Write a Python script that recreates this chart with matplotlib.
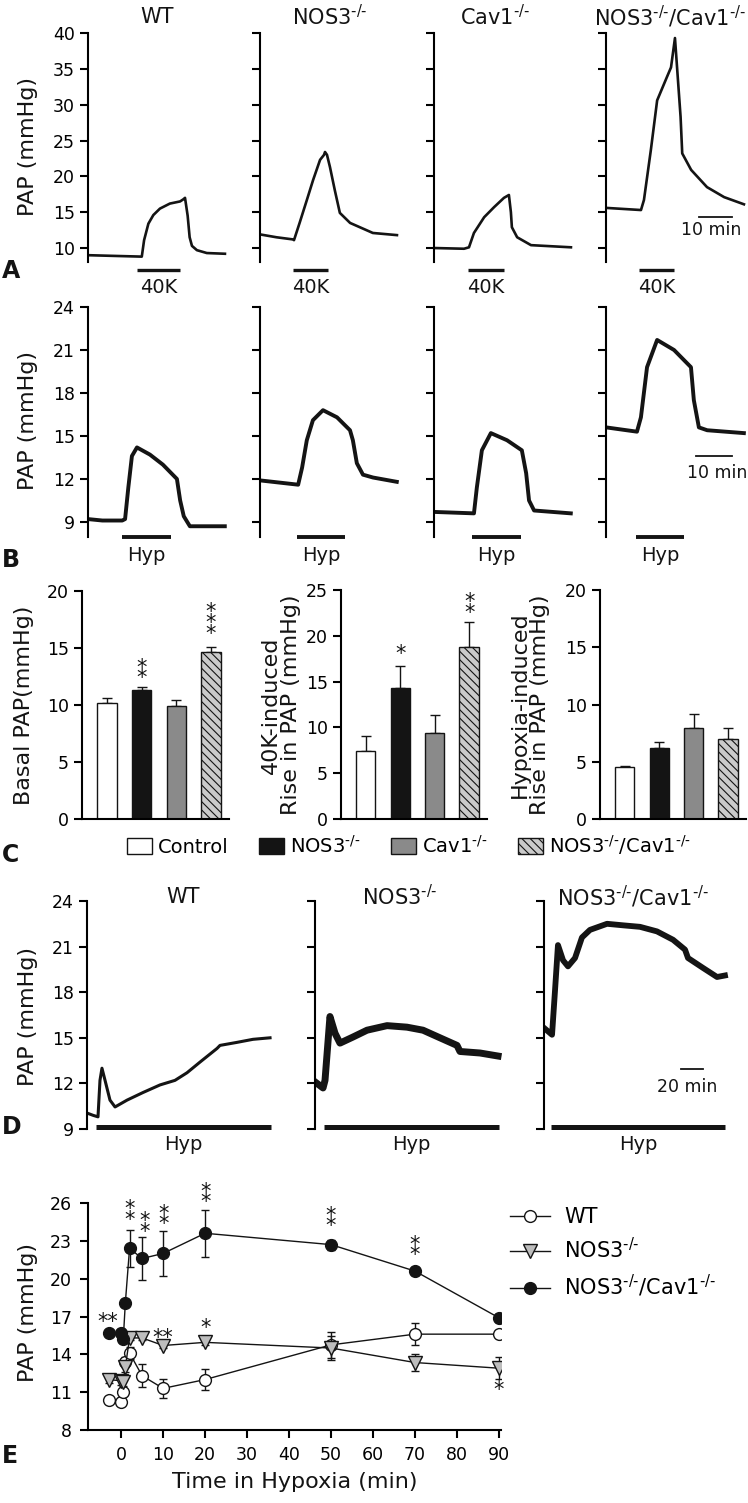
import matplotlib
matplotlib.use("Agg")
import matplotlib.pyplot as plt
from matplotlib.patches import Patch
from matplotlib.lines import Line2D

# ---------------- data ----------------
SUP = r"$^{\text{-/-}}$"
GROUPS_A = ["WT", "NOS3" + SUP, "Cav1" + SUP, "NOS3" + SUP + "/Cav1" + SUP]
GROUPS_D = ["WT", "NOS3" + SUP, "NOS3" + SUP + "/Cav1" + SUP]

# Panel A: 40K traces (time in min, PAP in mmHg)
a_wt_t = [0, 8, 16.3, 17.0, 18.3, 19.8, 21.8, 24.8, 27.9, 28.9, 29.4, 30.2, 30.8, 31.5, 33.0, 36.0, 41.5]
a_wt_p = [9.0, 8.9, 8.8, 11.1, 13.4, 14.6, 15.5, 16.2, 16.5, 16.8, 17.0, 14.5, 11.5, 10.3, 9.7, 9.3, 9.2]
a_nos3_t = [0, 5, 10.0, 10.3, 12.0, 14.2, 16.1, 18.2, 19.4, 19.7, 20.3, 21.2, 22.7, 24.2, 27.3, 34.2, 41.5]
a_nos3_p = [11.9, 11.5, 11.2, 11.1, 13.5, 16.7, 19.5, 22.3, 23.0, 23.4, 23.0, 21.3, 18.0, 14.9, 13.5, 12.1, 11.8]
a_cav_t = [0, 9.1, 10.6, 12.1, 15.2, 18.2, 21.2, 22.7, 23.3, 23.6, 25.2, 29.4, 41.5]
a_cav_p = [10.0, 9.9, 10.1, 12.1, 14.3, 15.7, 17.0, 17.4, 15.0, 12.9, 11.5, 10.4, 10.1]
a_dbl_t = [0, 10.6, 11.5, 13.6, 15.5, 18.5, 19.7, 20.9, 22.6, 23.1, 25.8, 30.6, 35.8, 41.8]
a_dbl_p = [15.6, 15.3, 16.7, 23.7, 30.6, 33.9, 35.2, 39.3, 28.3, 23.2, 20.9, 18.5, 17.1, 16.1]
a_k40_on = [14.8, 10.0, 10.3, 10.0]
a_k40_off = [27.9, 20.6, 21.2, 20.6]

# Panel B: hypoxia traces
b_wt_t = [0, 4, 9.5, 10.3, 11.2, 12.2, 13.6, 17.2, 20.8, 24.7, 25.6, 26.6, 28.3, 38.0]
b_wt_p = [9.2, 9.1, 9.1, 9.2, 11.4, 13.6, 14.2, 13.7, 13.0, 12.0, 10.5, 9.4, 8.7, 8.7]
b_nos3_t = [0, 10.6, 11.7, 13.0, 14.7, 17.5, 21.4, 25.0, 25.8, 26.9, 28.6, 31.4, 38.0]
b_nos3_p = [11.9, 11.6, 12.8, 14.7, 16.1, 16.8, 16.3, 15.4, 14.7, 13.1, 12.3, 12.1, 11.8]
b_cav_t = [0, 11.1, 11.9, 13.3, 15.8, 20.3, 24.4, 25.6, 26.4, 27.8, 38.0]
b_cav_p = [9.7, 9.6, 11.4, 14.0, 15.2, 14.7, 14.0, 12.4, 10.5, 9.8, 9.6]
b_dbl_t = [0, 8.6, 9.7, 11.4, 14.2, 18.9, 23.6, 24.4, 25.8, 28.1, 38.3]
b_dbl_p = [15.6, 15.3, 16.3, 19.8, 21.7, 21.0, 19.8, 17.5, 15.6, 15.4, 15.2]
b_hyp_on = [9.4, 10.3, 10.6, 8.3]
b_hyp_off = [23.1, 23.6, 24.2, 21.7]

# Panel C: bar summaries
c_groups = ["Control", "NOS3" + SUP, "Cav1" + SUP, "NOS3" + SUP + "/Cav1" + SUP]
c_basal = [10.2, 11.35, 9.95, 14.65]
c_basal_err = [0.4, 0.25, 0.5, 0.4]
c_k40 = [7.4, 14.3, 9.4, 18.8]
c_k40_err = [1.7, 2.4, 2.0, 2.7]
c_hyp = [4.5, 6.2, 7.95, 6.95]
c_hyp_err = [0.17, 0.5, 1.2, 1.0]

# Panel D: prolonged hypoxia traces
d_wt_t = [0, 5.5, 10, 10.9, 11.8, 13.6, 16.4, 20.9, 25.5, 36.4, 50.9, 66.4, 80, 90.9, 102.7, 118.2, 120.9, 136.4, 150.9, 166.4]
d_wt_p = [10.05, 9.9, 9.8, 11.0, 12.2, 13.0, 12.2, 10.9, 10.45, 10.9, 11.4, 11.9, 12.2, 12.7, 13.4, 14.3, 14.5, 14.7, 14.9, 15.0]
d_nos3_t = [0, 7.3, 9.1, 13.6, 18.2, 22.7, 34.5, 47.3, 65.5, 83.6, 98.2, 113.6, 129.1, 131.8, 150, 166.4]
d_nos3_p = [12.1, 11.7, 12.2, 16.4, 15.3, 14.65, 15.05, 15.5, 15.8, 15.7, 15.5, 15.0, 14.5, 14.1, 14.0, 13.8]
d_dbl_t = [0, 7.3, 10, 12.7, 17.3, 21.8, 28.2, 34.5, 41.8, 57.3, 71.8, 87.3, 102.7, 117.3, 128.2, 130.9, 144.5, 157.3, 164.5]
d_dbl_p = [15.65, 15.2, 18.1, 21.1, 20.1, 19.7, 20.25, 21.6, 22.1, 22.5, 22.4, 22.3, 22.0, 21.45, 20.8, 20.25, 19.6, 19.0, 19.1]
d_hyp_on = [8.2, 8.2, 6.4]
d_hyp_off = [167.3, 167.3, 164.5]

# Panel E: time course
e_time = [-3, 0, 0.5, 1, 2, 5, 10, 20, 50, 70, 90]
e_wt = [10.4, 10.25, 11.0, 13.4, 14.1, 12.3, 11.3, 12.0, 14.75, 15.6, 15.6]
e_wt_err = [0.15, 0.25, 0.3, 0.4, 0.5, 0.9, 0.75, 0.8, 1.05, 0.85, 0.2]
e_nos3 = [12.0, 11.9, 11.8, 13.0, 15.3, 15.3, 14.7, 14.95, 14.5, 13.35, 12.9]
e_nos3_err = [0.3, 0.3, 0.3, 0.4, 0.2, 0.2, 0.2, 0.2, 0.95, 0.7, 0.85]
e_dbl = [15.7, 15.7, 15.2, 18.1, 22.4, 21.6, 22.0, 23.6, 22.7, 20.6, 16.9]
e_dbl_err = [0.2, 0.3, 0.3, 0.3, 1.45, 1.7, 1.8, 1.85, 0.4, 0.3, 0.3]
e_xticks = [0, 10, 20, 30, 40, 50, 60, 70, 80, 90]
e_yticks = [8, 11, 14, 17, 20, 23, 26]

# significance marks (x, y of lowest star, number stacked vertically)
c1_stars = [(1, 12.5, 2), (3, 16.4, 3)]
c2_stars = [(1, 18.2, 1), (3, 22.7, 2)]
e_stars = [(2.1, 24.8, 2), (5.6, 23.85, 2), (10.2, 24.45, 2), (20, 26.2, 2),
           (50, 24.3, 2), (70, 22.0, 2), (20, 16.25, 1), (90, 11.3, 1)]
e_pair_stars = [(-3.1, 17.0), (9.8, 15.8)]

# ---------------- figure helpers ----------------
W, H = 748, 1503
plt.rcParams.update({
    "font.family": ["DejaVu Sans"],
    "mathtext.default": "regular",
    "axes.linewidth": 1.5,
    "hatch.linewidth": 0.8,
})
fig = plt.figure(figsize=(W / 100, H / 100), dpi=100)
INK = "#141414"
STAR_FS = 15


def px_axes(x0, y0, x1, y1):
    ax = fig.add_axes([x0 / W, 1 - y1 / H, (x1 - x0) / W, (y1 - y0) / H])
    ax.patch.set_alpha(0)
    return ax


def ftext(x, y, s, **kw):
    fig.text(x / W, 1 - y / H, s, **kw)


def star_stack(ax, x, y, n, fs=STAR_FS):
    # y = centre of the lowest star; stars stacked vertically in one text
    ax.annotate("\n".join(["*"] * n), xy=(x, y), xytext=(0, -0.57 * fs), textcoords="offset points",
                ha="center", va="bottom", fontsize=fs, color=INK, linespacing=0.42,
                annotation_clip=False)


def star_pair(ax, x, y, fs=STAR_FS):
    ax.annotate("**", xy=(x, y), xytext=(0, -0.57 * fs), textcoords="offset points",
                ha="center", va="baseline", fontsize=fs, color=INK, annotation_clip=False)


def trace_axes(x0, y0, x1, y1, ylim, pxmin, yticks, labels):
    ax = px_axes(x0, y0, x1, y1)
    ax.set_xlim(0, (x1 - x0) / pxmin)
    ax.set_ylim(*ylim)
    for s in ["top", "right", "bottom"]:
        ax.spines[s].set_visible(False)
    ax.set_xticks([])
    ax.set_yticks(yticks)
    if not labels:
        ax.set_yticklabels([])
    ax.tick_params(axis="y", direction="out", length=5.5, width=1.5, labelsize=12.5, pad=4)
    return ax


# ---------------- Panel A ----------------
a_traces = [(a_wt_t, a_wt_p), (a_nos3_t, a_nos3_p), (a_cav_t, a_cav_p), (a_dbl_t, a_dbl_p)]
a_x = [(88, 233), (260, 405), (434, 579), (606, 748)]
a_title_x = [157, 330, 495, 670]
for i, ((t, p), (x0, x1)) in enumerate(zip(a_traces, a_x)):
    ax = trace_axes(x0, 33, x1, 262, (8.05, 40), 3.3, [10, 15, 20, 25, 30, 35, 40], i == 0)
    ax.plot(t, p, color=INK, lw=1.9, solid_joinstyle="round")
    ax.plot([a_k40_on[i], a_k40_off[i]], [6.93, 6.93], color=INK, lw=2.4, clip_on=False, solid_capstyle="butt")
    ax.text((a_k40_on[i] + a_k40_off[i]) / 2, 4.5, "40K", ha="center", va="center", fontsize=14, color=INK)
    ftext(a_title_x[i], 17, GROUPS_A[i], ha="center", va="center", fontsize=15, color=INK)
    if i == 3:
        ax.plot([28.2, 38.2], [14.3, 14.3], color=INK, lw=1.3)
        ax.text(31.8, 12.5, "10 min", ha="center", va="center", fontsize=12.5, color=INK)
ftext(28, 146, "PAP (mmHg)", rotation=90, ha="center", va="center", fontsize=16, color=INK)
ftext(2, 271, "A", fontsize=17, fontweight="bold", ha="left", va="center", color=INK)

# ---------------- Panel B ----------------
b_traces = [(b_wt_t, b_wt_p), (b_nos3_t, b_nos3_p), (b_cav_t, b_cav_p), (b_dbl_t, b_dbl_p)]
for i, ((t, p), (x0, x1)) in enumerate(zip(b_traces, a_x)):
    ax = trace_axes(x0, 307, x1, 537, (7.95, 24), 3.6, [9, 12, 15, 18, 21, 24], i == 0)
    ax.plot(t, p, color=INK, lw=2.8, solid_joinstyle="round")
    ax.plot([b_hyp_on[i], b_hyp_off[i]], [7.95, 7.95], color=INK, lw=2.8, clip_on=False, solid_capstyle="butt")
    ax.text((b_hyp_on[i] + b_hyp_off[i]) / 2, 6.65, "Hyp", ha="center", va="center", fontsize=14, color=INK)
    if i == 3:
        ax.plot([25, 35], [13.6, 13.6], color=INK, lw=1.3)
        ax.text(30.8, 12.4, "10 min", ha="center", va="center", fontsize=12.5, color=INK)
ftext(28, 420, "PAP (mmHg)", rotation=90, ha="center", va="center", fontsize=16, color=INK)
ftext(2, 560, "B", fontsize=17, fontweight="bold", ha="left", va="center", color=INK)

# ---------------- Panel C ----------------
bar_colors = ["white", INK, "#8a8a8a", "#cacaca"]
bar_hatch = [None, None, None, "\\\\\\\\"]
c_sets = [
    (82, 229, 591, c_basal, c_basal_err, 20, [0, 5, 10, 15, 20], "Basal PAP(mmHg)", 24, c1_stars),
    (341, 487, 590, c_k40, c_k40_err, 25, [0, 5, 10, 15, 20, 25], "40K-induced\nRise in PAP (mmHg)", 281, c2_stars),
    (600, 746, 590, c_hyp, c_hyp_err, 20, [0, 5, 10, 15, 20], "Hypoxia-induced\nRise in PAP (mmHg)", 530, []),
]
xpos = [0, 1, 2, 3]
for x0, x1, y0, vals, errs, ymax, yt, ylab, labx, stars in c_sets:
    ax = px_axes(x0, y0, x1, 819)
    bars = ax.bar(xpos, vals, width=0.56, color=bar_colors, edgecolor=INK, linewidth=1.0, zorder=2)
    for b, h in zip(bars, bar_hatch):
        if h:
            b.set_hatch(h)
    ax.errorbar(xpos, vals, yerr=[[0] * 4, errs], fmt="none", ecolor=INK, elinewidth=1.0,
                capsize=3.5, capthick=1.0, zorder=1)
    ax.set_xlim(-0.72, 3.52)
    ax.set_ylim(0, ymax)
    ax.set_yticks(yt)
    ax.set_xticks([])
    for s in ["top", "right"]:
        ax.spines[s].set_visible(False)
    ax.tick_params(axis="y", direction="out", length=5.5, width=1.5, labelsize=12.5, pad=4)
    for sx, sy, n in stars:
        star_stack(ax, sx, sy, n)
    ftext(labx, 705, ylab, rotation=90, ha="center", va="center", fontsize=16, color=INK,
          linespacing=1.05, multialignment="center")
handles = [Patch(facecolor=c, edgecolor=INK, hatch=h, linewidth=1.0) for c, h in zip(bar_colors, bar_hatch)]
fig.legend(handles, c_groups, loc="center left", bbox_to_anchor=(127 / W, 1 - 845 / H), ncol=4,
           frameon=False, fontsize=14, handlelength=1.3, handleheight=0.95, handletextpad=0.3,
           columnspacing=1.55, borderaxespad=0, borderpad=0)
ftext(2, 855, "C", fontsize=17, fontweight="bold", ha="left", va="center", color=INK)

# ---------------- Panel D ----------------
d_traces = [(d_wt_t, d_wt_p, 2.2), (d_nos3_t, d_nos3_p, 5.0), (d_dbl_t, d_dbl_p, 4.2)]
d_x = [87, 315, 544]
d_title_x = [183, 400, 633]
for i, ((t, p, lw), x0) in enumerate(zip(d_traces, d_x)):
    ax = trace_axes(x0, 901, x0 + 190, 1129, (9, 24), 1.1, [9, 12, 15, 18, 21, 24], i == 0)
    ax.plot(t, p, color=INK, lw=lw, solid_joinstyle="round")
    ax.plot([d_hyp_on[i], d_hyp_off[i]], [9.15, 9.15], color=INK, lw=3.6, clip_on=False, solid_capstyle="butt")
    ax.text((d_hyp_on[i] + d_hyp_off[i]) / 2, 7.95, "Hyp", ha="center", va="center", fontsize=14, color=INK)
    ftext(d_title_x[i], 897, GROUPS_D[i], ha="center", va="center", fontsize=15, color=INK)
    if i == 2:
        ax.plot([124.5, 144.5], [12.95, 12.95], color=INK, lw=1.3)
        ax.text(130, 11.75, "20 min", ha="center", va="center", fontsize=12.5, color=INK)
ftext(28, 1016, "PAP (mmHg)", rotation=90, ha="center", va="center", fontsize=16, color=INK)
ftext(2, 1127, "D", fontsize=17, fontweight="bold", ha="left", va="center", color=INK)

# ---------------- Panel E ----------------
ax = px_axes(88, 1203, 501, 1430)
styles = [
    (e_wt, e_wt_err, "o", "white", 8.5),
    (e_nos3, e_nos3_err, "v", "#bdbdbd", 9.5),
    (e_dbl, e_dbl_err, "o", INK, 8.5),
]
for vals, errs, mk, fc, ms in styles:
    ax.errorbar(e_time, vals, yerr=errs, fmt="none", ecolor=INK, elinewidth=1.0, capsize=3.2, capthick=1.0)
    ax.plot(e_time, vals, color=INK, lw=1.0, marker=mk, mfc=fc, mec=INK, mew=1.0, ms=ms)
ax.set_xlim(-7.9, 90.5)
ax.set_ylim(8, 26)
ax.set_xticks(e_xticks)
ax.set_yticks(e_yticks)
for s in ["top", "right"]:
    ax.spines[s].set_visible(False)
ax.tick_params(direction="out", length=5.5, width=1.5, labelsize=12.5, pad=6)
for sx, sy, n in e_stars:
    star_stack(ax, sx, sy, n)
for sx, sy in e_pair_stars:
    star_pair(ax, sx, sy)
ax.set_xlabel("Time in Hypoxia (min)", fontsize=16, color=INK, labelpad=6)
ftext(28, 1313, "PAP (mmHg)", rotation=90, ha="center", va="center", fontsize=16, color=INK)
leg_handles = [Line2D([], [], color=INK, lw=1.0, marker=mk, mfc=fc, mec=INK, ms=ms) for _, _, mk, fc, ms in styles]
fig.legend(leg_handles, GROUPS_D, loc="upper left", bbox_to_anchor=(510 / W, 1 - 1207 / H), frameon=False,
           fontsize=15, handlelength=1.9, handletextpad=0.7, labelspacing=0.5, borderaxespad=0, borderpad=0)
ftext(2, 1456, "E", fontsize=17, fontweight="bold", ha="left", va="center", color=INK)

fig.savefig("out.png", dpi=100)
